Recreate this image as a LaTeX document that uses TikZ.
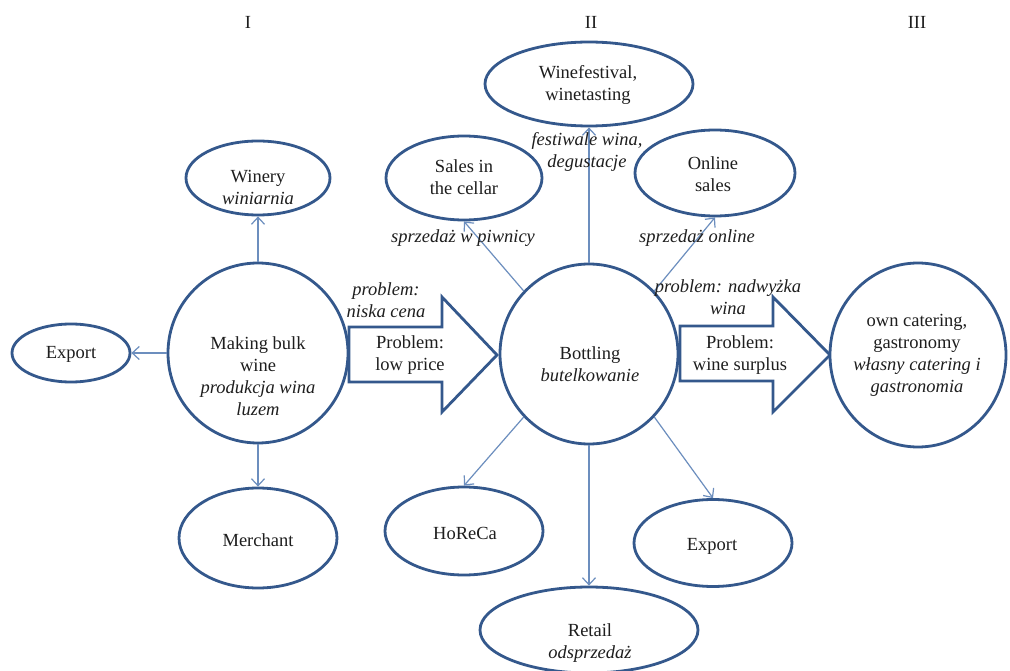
\documentclass[tikz,border=0pt]{standalone}
\usepackage{fontspec}
\setmainfont{Liberation Serif}
\usetikzlibrary{shapes.geometric,arrows.meta}
\definecolor{edgeblue}{RGB}{52,88,140}
\definecolor{linkblue}{RGB}{108,142,190}
\definecolor{ink}{RGB}{30,30,30}
\begin{document}
\begin{tikzpicture}[x=1pt,y=-1pt,
  shp/.style={ellipse,draw=edgeblue,line width=2.8pt,fill=white,inner sep=0pt},
  txt/.style={align=center,font=\fontsize{18.5}{22}\selectfont,text=ink,inner sep=0pt},
  itxt/.style={txt,font=\fontsize{18.5}{22}\selectfont\itshape},
  lnk/.style={draw=linkblue,line width=1.2pt,-{Straight Barb[length=7pt,width=13pt]}},
  blk/.style={draw=edgeblue,line width=2.8pt,fill=white,line join=miter}]
\useasboundingbox (0,0) rectangle (1010,671);
\fill[white] (0,0) rectangle (1010,671);

% roman numerals
\node[txt] (n1) at (248,22) {I};
\node[txt] (n2) at (591,22) {II};
\node[txt] (n3) at (917,22) {III};

% block arrows
\draw[blk] (349,327) -- (442,327) -- (442,297) -- (497,355) -- (442,412) -- (442,382) -- (349,382) -- cycle;
\draw[blk] (680,326) -- (773,326) -- (773,297) -- (830,355) -- (773,412) -- (773,381) -- (680,381) -- cycle;

% shapes
\node[shp,minimum width=180pt,minimum height=180pt] (mk) at (258,353) {};
\node[shp,minimum width=144pt,minimum height=74pt] (win) at (258,178) {};
\node[shp,minimum width=118pt,minimum height=58pt] (exl) at (71,353) {};
\node[shp,minimum width=158pt,minimum height=100pt] (mer) at (258,538) {};
\node[shp,minimum width=178pt,minimum height=180pt] (bot) at (589,354) {};
\node[shp,minimum width=208pt,minimum height=84pt] (wf) at (589,84) {};
\node[shp,minimum width=156pt,minimum height=84pt] (sal) at (464,178) {};
\node[shp,minimum width=160pt,minimum height=86pt] (onl) at (715,173) {};
\node[shp,minimum width=176pt,minimum height=184pt] (cat) at (918,355) {};
\node[shp,minimum width=158pt,minimum height=88pt] (hor) at (464,531) {};
\node[shp,minimum width=158pt,minimum height=87pt] (exr) at (713,543) {};
\node[shp,minimum width=218pt,minimum height=86pt] (ret) at (589,630) {};

% connectors
\draw[lnk] (mk.north) -- (win.south);
\draw[lnk] (mk.west) -- (exl.east);
\draw[lnk] (mk.south) -- (mer.north);
\draw[lnk] (bot.north) -- (wf.south);
\draw[lnk] (bot.136) -- (sal.south);
\draw[lnk] (bot.44) -- (onl.south);
\draw[lnk] (bot.224) -- (hor.north);
\draw[lnk] (bot.south) -- (ret.north);
\draw[lnk] (bot.-44) -- (exr.north);

% texts in shapes
\node[txt] (mkt) at (258,376) {Making bulk\\wine\\\itshape produkcja wina\\\itshape luzem};
\node[txt] (wint) at (258,187) {Winery\\\itshape winiarnia};
\node[txt] (exlt) at (71,354) {Export};
\node[txt] (mert) at (258,540) {Merchant};
\node[txt] (bott) at (590,364) {Bottling\\\itshape butelkowanie};
\node[txt] (wft) at (588,85) {Winefestival,\\winetasting};
\node[txt] (salt) at (464,177) {Sales in\\the cellar};
\node[txt] (onlt) at (713,174) {Online\\sales};
\node[txt] (catt) at (917,355) {own catering,\\gastronomy\\\itshape własny catering i\\\itshape gastronomia};
\node[txt] (hort) at (465,533) {HoReCa};
\node[txt] (exrt) at (712,546) {Export};
\node[txt] (rett) at (590,643) {Retail\\\itshape odsprzedaż};

% arrow texts
\node[txt] (a1t) at (410,355) {Problem:\\low price};
\node[txt] (a2t) at (740,355) {Problem:\\wine surplus};
\node[itxt] (a1l) at (386,300) {problem:\\niska cena};
\node[itxt] (a2l) at (728,297) {problem: nadwyżka\\wina};

% link labels
\node[itxt] (sall) at (463,238) {sprzedaż w piwnicy};
\node[itxt] (onll) at (697,238) {sprzedaż online};
\node[itxt] (wfl) at (587,152) {festiwale wina,\\degustacje};
\end{tikzpicture}
\end{document}
